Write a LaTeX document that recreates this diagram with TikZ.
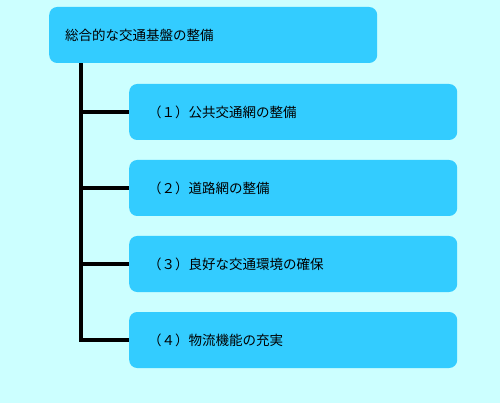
\documentclass[tikz,border=0pt]{standalone}
\usepackage{fontspec}
\newfontfamily\jpfont{Noto Sans CJK JP}
\usetikzlibrary{positioning,calc}
\definecolor{bgcyan}{HTML}{CCFFFF}
\definecolor{boxblue}{HTML}{33CCFF}
\tikzset{
	itembox/.style={fill=boxblue, rounded corners=8pt, anchor=west,
		minimum width=328pt, minimum height=56pt, text width=290pt, align=left,
		inner xsep=19pt, font=\jpfont\fontsize{13.5}{16}\selectfont},
	branch/.style={line width=4pt, black}
}
\begin{document}
\begin{tikzpicture}[x=1pt,y=-1pt]
	\fill[bgcyan] (0,0) rectangle (500,403);
	\node[itembox, inner xsep=16pt, text width=296pt] (base) at (49,35) {総合的な交通基盤の整備};
	\foreach \i/\t in {1/（１）公共交通網の整備, 2/（２）道路網の整備, 3/（３）良好な交通環境の確保, 4/（４）物流機能の充実} {
		\node[itembox] (sub\i) at (129,{112+76*(\i-1)}) {\t};
	}
	\coordinate (spine) at ($(base.south west)+(32,0)$);
	\draw[branch] (spine) |- (sub4.west);
	\foreach \i in {1,2,3} {
		\draw[branch] (spine |- sub\i.west) -- (sub\i.west);
	}
\end{tikzpicture}
\end{document}
